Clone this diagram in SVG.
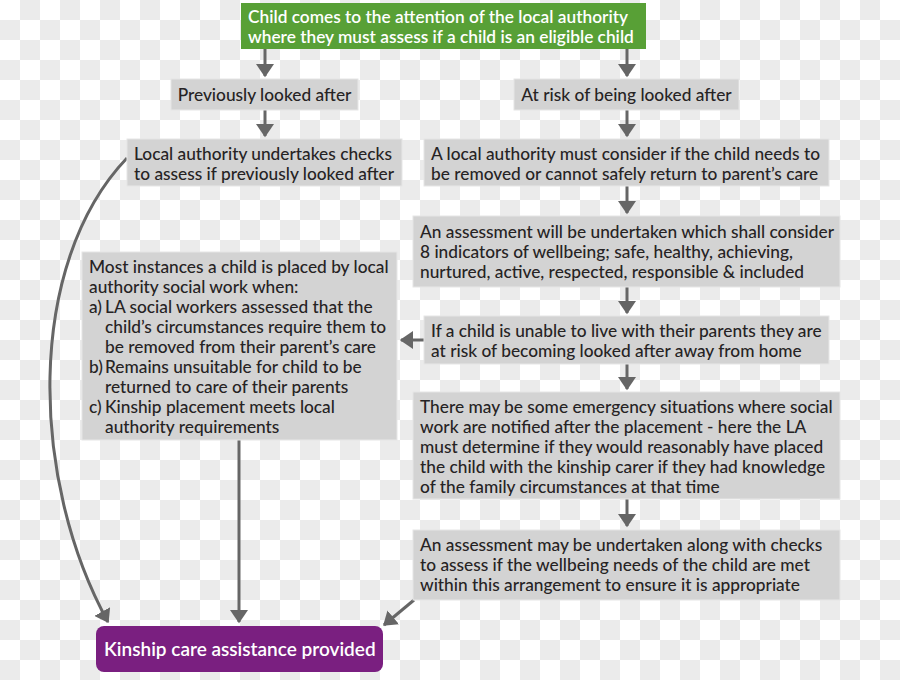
<svg xmlns="http://www.w3.org/2000/svg" width="900" height="680" viewBox="0 0 900 680">
<defs>
<pattern id="chk" width="40" height="40" patternUnits="userSpaceOnUse">
<rect width="40" height="40" fill="#ffffff"/>
<rect x="20" y="0" width="20" height="20" fill="#ebebeb"/>
<rect x="0" y="20" width="20" height="20" fill="#ebebeb"/>
</pattern>
<marker id="ah" markerWidth="6" markerHeight="6" refX="4" refY="3" orient="auto" markerUnits="strokeWidth">
<path d="M0,0 L4.4,3 L0,6 Z" fill="#666666"/>
</marker>
<style>
.box{fill:#d3d3d3;stroke:#e6e6e6;stroke-width:1}
.t{font-family:Lato,"Open Sans",sans-serif;font-size:17.3px;fill:#262324;font-weight:500}
.w{font-family:Lato,"Open Sans",sans-serif;font-size:17.3px;fill:#ffffff;font-weight:600}
.c{stroke:#666666;stroke-width:3;fill:none;marker-end:url(#ah)}
</style>
</defs>
<rect width="900" height="680" fill="url(#chk)"/>

<g id="connectors">
<path class="c" d="M265,49 V76"/>
<path class="c" d="M627,49 V76"/>
<path class="c" d="M265,110 V136"/>
<path class="c" d="M627,110 V136"/>
<path class="c" d="M627,186 V213"/>
<path class="c" d="M627,287 V313"/>
<path class="c" d="M424,340 H401"/>
<path class="c" d="M627,364 V389"/>
<path class="c" d="M627,499 V526"/>
<path class="c" d="M239,440 V622"/>
<path class="c" d="M414,600 L384,625"/>
<path class="c" d="M127,158 C25,265 30,480 108,622"/>
</g>

<g id="start">
<rect x="241" y="3" width="405" height="46" fill="#58a036"/>
<text class="w" x="248" y="22.5">Child comes to the attention of the local authority</text>
<text class="w" x="248" y="42.5">where they must assess if a child is an eligible child</text>
</g>

<g id="prev">
<rect class="box" x="171" y="79" width="187" height="31"/>
<text class="t" x="264.5" y="100.5" text-anchor="middle">Previously looked after</text>
</g>

<g id="risk">
<rect class="box" x="514" y="79" width="225" height="31"/>
<text class="t" x="626.5" y="100.5" text-anchor="middle">At risk of being looked after</text>
</g>

<g id="checks">
<rect class="box" x="127" y="139" width="275" height="47"/>
<text class="t" x="134" y="159.5">Local authority undertakes checks</text>
<text class="t" x="134" y="179.5">to assess if previously looked after</text>
</g>

<g id="consider">
<rect class="box" x="424" y="139" width="405" height="47"/>
<text class="t" x="431" y="159.5">A local authority must consider if the child needs to</text>
<text class="t" x="431" y="179.5">be removed or cannot safely return to parent’s care</text>
</g>

<g id="assessment">
<rect class="box" x="413" y="216" width="427" height="71"/>
<text class="t" x="420" y="237.5">An assessment will be undertaken which shall consider</text>
<text class="t" x="420" y="257.5">8 indicators of wellbeing; safe, healthy, achieving,</text>
<text class="t" x="420" y="277.5">nurtured, active, respected, responsible &amp; included</text>
</g>

<g id="unable">
<rect class="box" x="424" y="316" width="405" height="48"/>
<text class="t" x="431" y="336.5">If a child is unable to live with their parents they are</text>
<text class="t" x="431" y="356.5">at risk of becoming looked after away from home</text>
</g>

<g id="instances">
<rect class="box" x="82" y="252" width="315" height="188"/>
<text class="t" x="89" y="272.5">Most instances a child is placed by local</text>
<text class="t" x="89" y="292.5">authority social work when:</text>
<text class="t" x="89" y="312.5">a)</text>
<text class="t" x="105" y="312.5">LA social workers assessed that the</text>
<text class="t" x="105" y="332.5">child’s circumstances require them to</text>
<text class="t" x="105" y="352.5">be removed from their parent’s care</text>
<text class="t" x="89" y="372.5">b)</text>
<text class="t" x="105" y="372.5">Remains unsuitable for child to be</text>
<text class="t" x="105" y="392.5">returned to care of their parents</text>
<text class="t" x="89" y="412.5">c)</text>
<text class="t" x="105" y="412.5">Kinship placement meets local</text>
<text class="t" x="105" y="432.5">authority requirements</text>
</g>

<g id="emergency">
<rect class="box" x="413" y="392" width="427" height="107"/>
<text class="t" x="420" y="412.5">There may be some emergency situations where social</text>
<text class="t" x="420" y="432.5">work are notified after the placement  - here the LA</text>
<text class="t" x="420" y="452.5">must determine if they would reasonably have placed</text>
<text class="t" x="420" y="472.5">the child with the kinship carer if they had knowledge</text>
<text class="t" x="420" y="492.5">of the family circumstances at that time</text>
</g>

<g id="checks2">
<rect class="box" x="413" y="530" width="427" height="70"/>
<text class="t" x="420" y="550.5">An assessment may be undertaken along with checks</text>
<text class="t" x="420" y="570.5">to assess if the wellbeing needs of the child are met</text>
<text class="t" x="420" y="590.5">within this arrangement to ensure it is appropriate</text>
</g>

<g id="kinship">
<rect x="96" y="626" width="287" height="46" rx="8" fill="#7a1f80"/>
<text class="w" x="104" y="656" style="font-size:19px">Kinship care assistance provided</text>
</g>
</svg>
